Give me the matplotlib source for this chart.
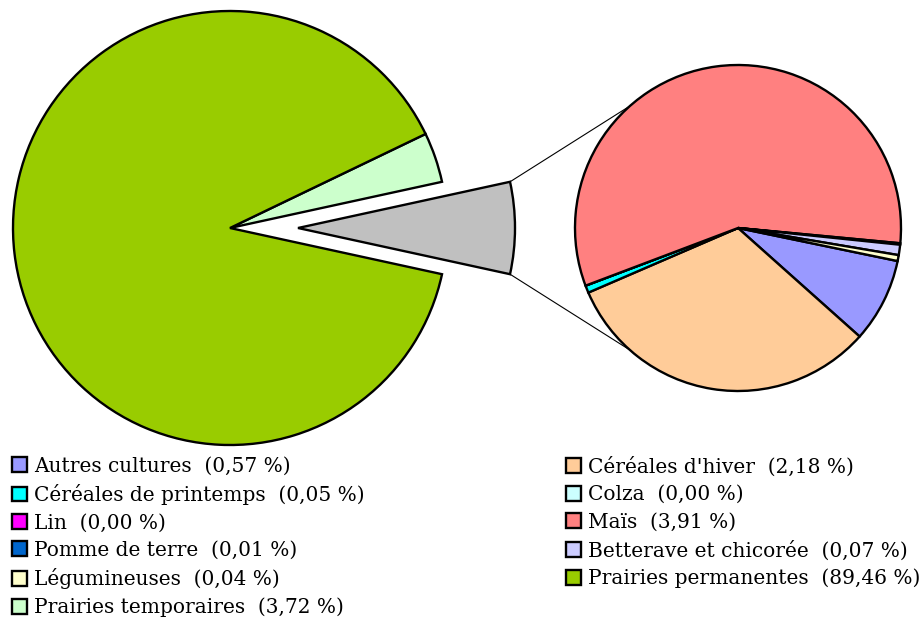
import numpy as np
import matplotlib
matplotlib.use("Agg")
import matplotlib.pyplot as plt
from matplotlib.patches import Patch

# ---- data ----
categories = ["Autres cultures", "Céréales d'hiver", "Céréales de printemps", "Colza",
              "Lin", "Maïs", "Pomme de terre", "Betterave et chicorée", "Légumineuses",
              "Prairies permanentes", "Prairies temporaires"]
values = [0.57, 2.18, 0.05, 0.00, 0.00, 3.91, 0.01, 0.07, 0.04, 89.46, 3.72]
labels = ["0,57 %", "2,18 %", "0,05 %", "0,00 %", "0,00 %", "3,91 %", "0,01 %",
          "0,07 %", "0,04 %", "89,46 %", "3,72 %"]
colors = ["#9999FF", "#FFCC99", "#00FFFF", "#CCFFFF", "#FF00FF", "#FF8080",
          "#0066CC", "#CCCCFF", "#FFFFCC", "#99CC00", "#CCFFCC"]
secondary_idx = list(range(9))   # categories shown in the small pie
grey = "#C0C0C0"

# ---- figure ----
W, H = 922, 620
fig = plt.figure(figsize=(W / 100, H / 100), dpi=100)
ax = fig.add_axes([0, 0, 1, 1])

other_total = sum(values[i] for i in secondary_idx)
main_vals = [other_total, values[10], values[9]]
main_cols = [grey, colors[10], colors[9]]

c1 = (230, H - 228)
r1 = 217
explode_px = 68
start1 = -other_total / sum(main_vals) * 360 / 2
wedges1, _ = ax.pie(main_vals, colors=main_cols, center=c1, radius=r1,
                    startangle=start1, counterclock=True,
                    explode=[explode_px, 0, 0],
                    wedgeprops=dict(edgecolor="black", linewidth=1.7),
                    frame=True)

c2 = (738, H - 228)
r2 = 163
sec_vals = [values[i] for i in secondary_idx]
sec_cols = [colors[i] for i in secondary_idx]
start2 = 348.3
wedges2, _ = ax.pie(sec_vals, colors=sec_cols, center=c2, radius=r2,
                    startangle=start2, counterclock=False,
                    wedgeprops=dict(edgecolor="black", linewidth=1.7),
                    frame=True)
ax.set_xlim(0, W)
ax.set_ylim(0, H)
ax.set_aspect("equal")
ax.axis("off")

# connector lines
half = np.deg2rad(other_total / sum(main_vals) * 360 / 2)
gx = c1[0] + explode_px
for s in (1, -1):
    p0 = (gx + r1 * np.cos(half), c1[1] + s * r1 * np.sin(half))
    a = np.deg2rad(180 - 48.5)
    p1 = (c2[0] + r2 * np.cos(a), c2[1] + s * r2 * np.sin(a))
    ax.plot([p0[0], p1[0]], [p0[1], p1[1]], color="black", lw=0.8, zorder=0)

# legend
handles = [Patch(facecolor=colors[i], edgecolor="black", linewidth=1.7,
                 label=f"{categories[i]}  ({labels[i]})") for i in range(len(categories))]
left = handles[0::2]
right = handles[1::2]
font = dict(family="DejaVu Serif", size=14.5)
common = dict(frameon=False, prop=font, handlelength=0.75, handleheight=0.75,
              handletextpad=0.35, labelspacing=0.42, borderpad=0, borderaxespad=0,
              loc="upper left")
leg1 = fig.legend(handles=left, bbox_to_anchor=(12 / W, 1 - 456.5 / H), **common)
leg2 = fig.legend(handles=right, bbox_to_anchor=(566 / W, 1 - 456.5 / H), **common)

fig.savefig("out.png", dpi=100)
